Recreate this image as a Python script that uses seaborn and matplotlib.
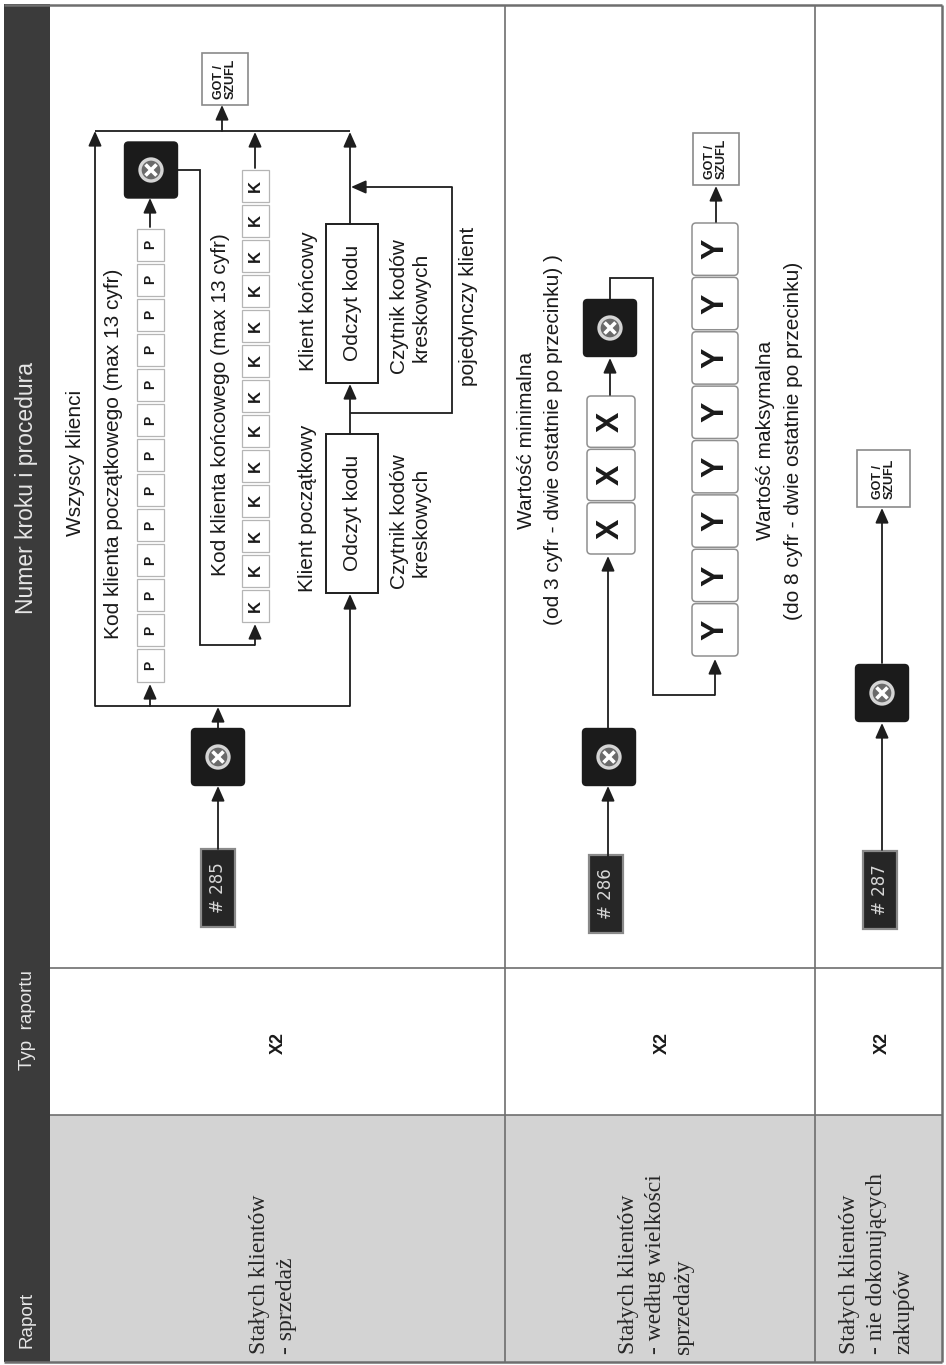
import matplotlib
matplotlib.use("Agg")
import matplotlib.pyplot as plt
from matplotlib.patches import Rectangle, FancyBboxPatch, Circle
import seaborn as sns

# table content
HEADERS = ["Raport", "Typ  raportu", "Numer kroku i procedura"]
REPORT_NAMES = [
    "Stałych klientów\n- sprzedaż",
    "Stałych klientów\n- według wielkości\nsprzedaży",
    "Stałych klientów\n- nie dokonujących\nzakupów",
]
REPORT_TYPES = ["X2", "X2", "X2"]
STEP_NUMBERS = ["# 285", "# 286", "# 287"]
END_KEY = "GOT /\nSZUFL"

# digit fields
START_CODE = list("PPPPPPPPPPPPP")   # max 13 cyfr
END_CODE = list("KKKKKKKKKKKKK")     # max 13 cyfr
MIN_VALUE = list("XXX")              # od 3 cyfr
MAX_VALUE = list("YYYYYYYY")         # do 8 cyfr

LABELS_285 = ["Wszyscy klienci",
              "Kod klienta początkowego (max 13 cyfr)",
              "Kod klienta końcowego (max 13 cyfr)",
              "Klient początkowy", "Klient końcowy",
              "Odczyt kodu", "Czytnik kodów\nkreskowych",
              "pojedynczy klient"]
LABELS_286 = ["Wartość minimalna",
              "(od 3 cyfr - dwie ostatnie po przecinku) )",
              "Wartość maksymalna",
              "(do 8 cyfr - dwie ostatnie po przecinku)"]

sns.set_theme(style="white")
plt.rcParams["font.family"] = ["Liberation Sans Narrow", "Liberation Sans", "DejaVu Sans"]

LINE = "#1e1e1e"
DARK = "#1b1b1b"

fig = plt.figure(figsize=(9.46, 13.65), dpi=100)
ax = fig.add_axes([0, 0, 1, 1])
ax.set_xlim(0, 946)
ax.set_ylim(1365, 0)
ax.axis("off")


def seg(*pts, color=LINE, lw=1.3):
    xs, ys = zip(*pts)
    ax.plot(xs, ys, color=color, lw=lw, solid_joinstyle="miter", solid_capstyle="butt")


def arrow(x0, y0, x1, y1):
    ax.annotate("", xy=(x1, y1), xytext=(x0, y0),
                arrowprops=dict(arrowstyle="-|>,head_length=0.45,head_width=0.2",
                                color=LINE, lw=1.3, shrinkA=0, shrinkB=0,
                                mutation_scale=20))


def vtext(x, y, s, size=15, **kw):
    kw.setdefault("ha", "center")
    kw.setdefault("va", "center")
    kw.setdefault("color", "#1a1a1a")
    ax.text(x, y, s, rotation=90, fontsize=size, **kw)


def stop_key(cx, cy, w=53, h=57):
    ax.add_patch(FancyBboxPatch((cx - w / 2 + 4, cy - h / 2 + 4), w - 8, h - 8,
                                boxstyle="round,pad=4", fc=DARK, ec=DARK, lw=1))
    ax.add_patch(Circle((cx, cy), 11, fc="#6a6a6a", ec="#d5d5d5", lw=2.4))
    d = 5.5
    seg((cx - d, cy - d), (cx + d, cy + d), color="white", lw=2.6)
    seg((cx - d, cy + d), (cx + d, cy - d), color="white", lw=2.6)


def step_box(cx, cy, label):
    ax.add_patch(Rectangle((cx - 17, cy - 39), 34, 78, fc="#262626", ec="#8a8a8a", lw=1.6))
    vtext(cx, cy, label, size=12, color="#d8d8d8", family="DejaVu Sans")


def got_box(x0, y0, x1, y1):
    ax.add_patch(Rectangle((x0, y0), x1 - x0, y1 - y0, fc="white", ec="#8a8a8a", lw=1.2))
    vtext((x0 + x1) / 2, (y0 + y1) / 2, END_KEY, size=9, weight="bold",
          linespacing=0.95, multialignment="left")


def digit_row(chars, cx, y_top, y_bot, w, size, rounded=False, gap=3):
    pitch = (y_bot - y_top) / len(chars)
    for i, ch in enumerate(chars):
        y0 = y_top + i * pitch + gap / 2
        h = pitch - gap
        if rounded:
            ax.add_patch(FancyBboxPatch((cx - w / 2 + 4, y0 + 4), w - 8, h - 8,
                                        boxstyle="round,pad=4", fc="white",
                                        ec="#8f8f8f", lw=1.1))
        else:
            ax.add_patch(Rectangle((cx - w / 2, y0), w, h, fc="white",
                                   ec="#b5b5b5", lw=0.9))
        vtext(cx, y0 + h / 2, ch, size=size, weight="bold", family="Liberation Sans")


# ---- table frame ----
ax.add_patch(Rectangle((50, 1115), 892, 247, fc="#d3d3d3", ec="none"))
ax.add_patch(Rectangle((4, 4), 46, 1358, fc="#3b3b3b", ec="none"))
FRAME = "#6e6e6e"
seg((4, 5), (942, 5), color=FRAME, lw=1.8)
seg((942, 5), (942, 1362), color=FRAME, lw=1.8)
seg((4, 1362), (942, 1362), color=FRAME, lw=1.8)
seg((505, 5), (505, 1362), color=FRAME, lw=1.2)
seg((815, 5), (815, 1362), color=FRAME, lw=1.2)
seg((50, 968), (942, 968), color=FRAME, lw=1.2)
seg((50, 1115), (942, 1115), color=FRAME, lw=1.2)

for y, s, fs in zip([1320, 1020, 488], HEADERS, [13.5, 13.5, 16.5]):
    vtext(27, y, s, size=fs, color="#e6e6e6")

for x, s in zip([249, 618, 839], REPORT_NAMES):
    ax.text(x, 1354, s, rotation=90, ha="left", va="bottom", multialignment="left",
            fontsize=17, family="Liberation Serif", color="#262626", linespacing=1.4)

for x, s in zip([278, 662, 882], REPORT_TYPES):
    vtext(x, 1043, s, size=13, weight="bold", family="Liberation Sans")

# ---- # 285 ----
step_box(218, 888, STEP_NUMBERS[0])
arrow(218, 849, 218, 786)
stop_key(218, 757)
arrow(218, 728, 218, 707)
seg((95, 706), (350, 706))
arrow(95, 706, 95, 131)
arrow(150, 706, 150, 684)
arrow(350, 706, 350, 594)
seg((95, 131), (350, 131))
arrow(222, 131, 222, 105)
got_box(202, 53, 248, 105)

digit_row(START_CODE, 150, 227, 683, 27, 10)
arrow(150, 227, 150, 198)
stop_key(151, 170, 53, 56)
seg((178, 170), (200, 170), (200, 645), (255, 645))
arrow(255, 645, 255, 624)
digit_row(END_CODE, 255, 168, 623, 27, 12)
arrow(255, 168, 255, 132)

for y0 in (434, 224):
    ax.add_patch(Rectangle((326, y0), 52, 159, fc="white", ec=LINE, lw=1.4))
arrow(350, 434, 350, 384)
seg((350, 413), (452, 413), (452, 187))
arrow(452, 187, 351, 187)
arrow(350, 224, 350, 132)

vtext(75, 463, LABELS_285[0])
vtext(113, 454, LABELS_285[1])
vtext(220, 405, LABELS_285[2])
vtext(307, 508, LABELS_285[3])
vtext(308, 301, LABELS_285[4])
vtext(352, 513, LABELS_285[5])
vtext(352, 303, LABELS_285[5])
vtext(410, 522, LABELS_285[6], multialignment="center", linespacing=1.2)
vtext(410, 307, LABELS_285[6], multialignment="center", linespacing=1.2)
vtext(468, 306, LABELS_285[7])

# ---- # 286 ----
step_box(606, 894, STEP_NUMBERS[1])
arrow(608, 856, 608, 786)
stop_key(609, 757)
arrow(608, 728, 608, 556)
digit_row(MIN_VALUE, 611, 395, 555, 48, 22, rounded=True, gap=2)
arrow(610, 395, 610, 358)
stop_key(610, 328)
seg((610, 300), (610, 278), (653, 278), (653, 695), (715, 695))
arrow(715, 695, 715, 659)
digit_row(MAX_VALUE, 715, 222, 657, 46, 22, rounded=True, gap=2)
arrow(716, 222, 716, 186)
got_box(693, 133, 739, 185)

vtext(526, 440, LABELS_286[0])
vtext(553, 440, LABELS_286[1])
vtext(765, 440, LABELS_286[2])
vtext(793, 441, LABELS_286[3])

# ---- # 287 ----
step_box(880, 890, STEP_NUMBERS[2])
arrow(882, 850, 882, 723)
stop_key(882, 693)
arrow(882, 663, 882, 508)
got_box(857, 450, 910, 507)

fig.savefig("out.png", dpi=100)
